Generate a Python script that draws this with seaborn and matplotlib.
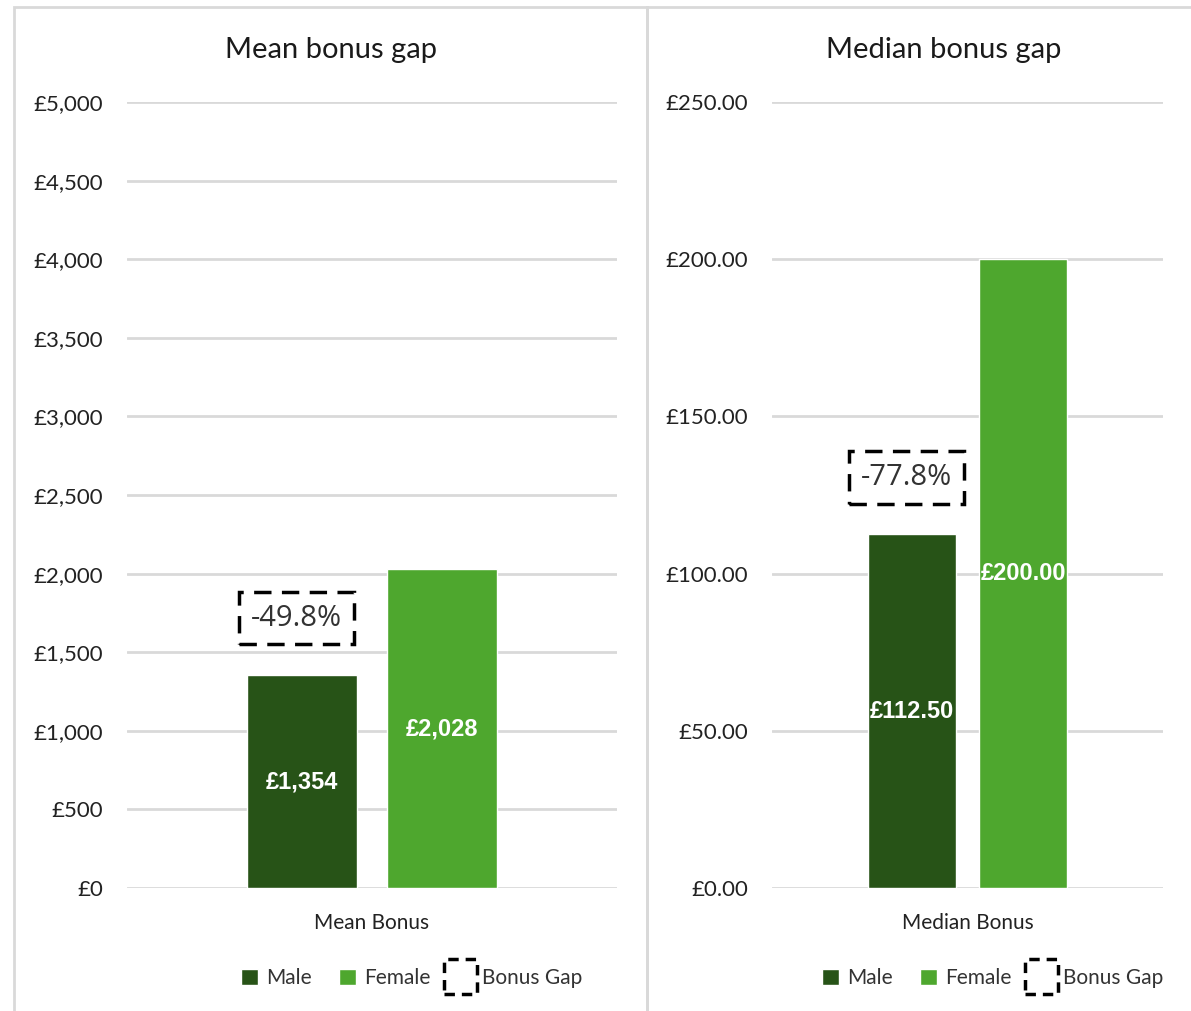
import pandas as pd
import seaborn as sns
import matplotlib.pyplot as plt
from matplotlib.patches import Patch, Rectangle
from matplotlib.legend_handler import HandlerPatch
from matplotlib.ticker import FuncFormatter

# Data
measures = ["Mean Bonus", "Median Bonus"]
sexes = ["Male", "Female"]
male_values = [1354, 112.50]
female_values = [2028, 200.00]
gap_labels = ["-49.8%", "-77.8%"]
panel_titles = ["Mean bonus gap", "Median bonus gap"]
y_limits = [5000, 250]
y_steps = [500, 50]

colors = {"Male": "#275317", "Female": "#4EA72E"}

df = pd.DataFrame({
    "measure": measures * 2,
    "sex": ["Male"] * 2 + ["Female"] * 2,
    "value": male_values + female_values,
})

sns.set_style("white")
plt.rcParams['font.family'] = ['Lato', 'DejaVu Sans']

W, H = 1191, 1011
fig = plt.figure(figsize=(W / 100, H / 100), dpi=100)

# panel borders (bottom edge runs off the image, as in the original)
for x0, x1 in [(14, 647), (647, 1210)]:
    fig.patches.append(Rectangle((x0 / W, -20 / H), (x1 - x0) / W, (H + 20 - 7) / H,
                                 transform=fig.transFigure, fill=False,
                                 ec="#D9D9D9", lw=2))


def big_box(legend, orig_handle, xdescent, ydescent, width, height, fontsize):
    # the bonus gap key is drawn larger than the colour squares
    return Rectangle((-xdescent - 10, -ydescent - 7), width + 12, height + 14)


axes_px = [(127, 617), (772, 1163)]
title_x = [331, 944]
legend_x = [412, 993]
formats = [lambda v, p: f"£{v:,.0f}", lambda v, p: f"£{v:.2f}"]
label_fmt = [lambda v: f"£{v:,.0f}", lambda v: f"£{v:.2f}"]

for i, measure in enumerate(measures):
    x0, x1 = axes_px[i]
    ax = fig.add_axes([x0 / W, (H - 888) / H, (x1 - x0) / W, 786 / H])
    sub = df[df["measure"] == measure]
    sns.barplot(data=sub, x="measure", y="value", hue="sex", hue_order=sexes,
                palette=colors, width=0.57, gap=0.21, legend=False, ax=ax,
                saturation=1, zorder=3)
    ax.set_ylim(0, y_limits[i])
    ax.set_xlim(-0.5, 0.5)
    ax.set_yticks(range(0, y_limits[i] + 1, y_steps[i]))
    ax.yaxis.set_major_formatter(FuncFormatter(formats[i]))
    ax.grid(axis="y", color="#D9D9D9", lw=2, zorder=0)
    ax.set_axisbelow(True)
    for s in ax.spines.values():
        s.set_visible(False)
    ax.tick_params(axis="y", length=0, pad=17, labelsize=16, labelcolor="#222222")
    ax.tick_params(axis="x", length=0, pad=18, labelsize=15, labelcolor="#222222")
    ax.set_xlabel("")
    ax.set_ylabel("")

    for cont in ax.containers:
        ax.bar_label(cont, labels=[label_fmt[i](b.get_height()) for b in cont],
                     label_type="center", color="white", fontweight="bold",
                     fontsize=17, family="Liberation Sans")

    male_bar = ax.containers[0][0]
    cx = male_bar.get_x() + male_bar.get_width() / 2
    ax.annotate(gap_labels[i], xy=(cx, male_bar.get_height()),
                xytext=(-4, 41), textcoords="offset points",
                ha="center", va="center", fontsize=21, color="#333333",
                family="Open Sans", zorder=5,
                bbox=dict(boxstyle="square,pad=0.4", fc="white", ec="black",
                          lw=2.5, ls=(0, (5, 3))))

    fig.text(title_x[i] / W, 1 - 50 / H, panel_titles[i], ha="center",
             va="center", fontsize=21, color="#1a1a1a")

    gap_handle = Patch(fc="white", ec="black", lw=2.5, ls=(0, (3, 2)),
                       label="Bonus Gap")
    handles = [Patch(fc=colors["Male"], label="Male"),
               Patch(fc=colors["Female"], label="Female"),
               gap_handle]
    leg = fig.legend(handles=handles, loc="center",
                     bbox_to_anchor=(legend_x[i] / W, 1 - 978 / H),
                     ncol=3, frameon=False, fontsize=15, handlelength=0.8,
                     handleheight=0.8, handletextpad=0.4, columnspacing=1.3,
                     handler_map={gap_handle: HandlerPatch(patch_func=big_box)})
    for t in leg.get_texts():
        t.set_color("#333333")

fig.savefig("out.png", dpi=100)
